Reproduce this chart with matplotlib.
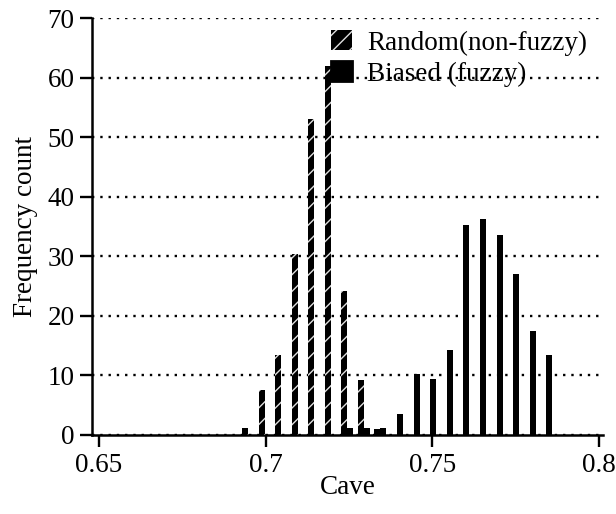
import matplotlib
matplotlib.use("Agg")
import matplotlib.pyplot as plt
import numpy as np

# Bin centres (Cave) and frequency counts
cave_bins = [0.6947, 0.6997, 0.7046, 0.7096, 0.7146, 0.7195, 0.7245, 0.7295,
             0.7344, 0.7394, 0.7444, 0.7494, 0.7543, 0.7593, 0.7643, 0.7693,
             0.7742, 0.7792, 0.7841]
random_counts = [1.2, 7.5, 13.4, 30.3, 53.0, 62.0, 24.1, 9.3,
                 1.0, 0, 0, 0, 0, 0, 0, 0, 0, 0, 0]
biased_counts = [0, 0, 0, 0, 0, 0, 1.1, 1.1,
                 1.1, 3.5, 10.2, 9.4, 14.2, 35.2, 36.2, 33.5, 27.1, 17.4, 13.4]
series_labels = ["Random(non-fuzzy)", "Biased (fuzzy)"]
xticks = [0.65, 0.7, 0.75, 0.8]
xtick_labels = ["0.65", "0.7", "0.75", "0.8"]
yticks = [0, 10, 20, 30, 40, 50, 60, 70]

plt.rcParams['font.family'] = ['Liberation Serif', 'DejaVu Serif']
plt.rcParams['hatch.linewidth'] = 1.0
FS = 19.5

fig = plt.figure(figsize=(6.16, 5.14), dpi=100)
ax = fig.add_axes([92/616, 1-435/514, (603-92)/616, (435-18)/514])

x = np.array(cave_bins)
w = 0.0018
ax.bar(x - w/2, random_counts, width=w, facecolor='black', edgecolor='#e0e0e0',
       linewidth=0, hatch='//', label=series_labels[0], zorder=3)
ax.bar(x + w/2, biased_counts, width=w, facecolor='black', edgecolor='black',
       linewidth=0, label=series_labels[1], zorder=3)

ax.set_xlim(0.6479, 0.8012)
ax.set_ylim(0, 70)
ax.set_xticks(xticks)
ax.set_xticklabels(xtick_labels)
ax.set_yticks(yticks)

ax.spines['top'].set_visible(False)
ax.spines['right'].set_visible(False)
for s in ('left', 'bottom'):
    ax.spines[s].set_linewidth(1.8)
ax.tick_params(axis='both', direction='out', length=8.6, width=1.7,
               labelsize=FS, pad=4)

ax.set_axisbelow(True)
ax.yaxis.grid(True, color='black', linestyle=(0, (1, 2.5)), linewidth=1.7)
ax.xaxis.grid(False)

ax.set_xlabel("Cave", fontsize=FS, labelpad=-1.5)
ax.set_ylabel("Frequency count", fontsize=FS, labelpad=7)

leg = ax.legend(loc='upper left', bbox_to_anchor=(331/616, 1-30/514),
                bbox_transform=fig.transFigure, frameon=False, fontsize=FS,
                borderpad=0, handlelength=0.78, handleheight=0.78,
                handletextpad=0.55, labelspacing=0.2, borderaxespad=0)
handles = leg.legend_handles
handles[1].set_linewidth(2.0)
handles[1].set_edgecolor('black')

fig.savefig("out.png", dpi=100)
